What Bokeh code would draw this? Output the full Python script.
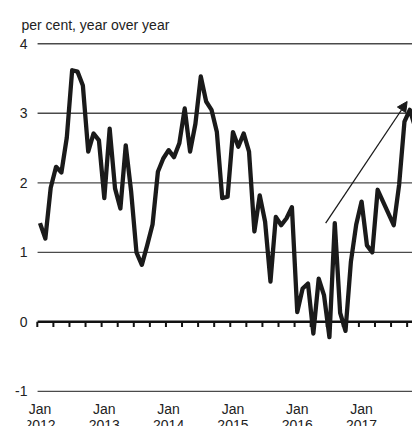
from bokeh.plotting import figure
from bokeh.models import FixedTicker, Arrow, NormalHead, ColumnDataSource, Range1d, LabelSet
from bokeh.core.properties import value
from bokeh.embed import file_html
from bokeh.resources import INLINE

# Monthly values, Jan 2012 .. Nov 2017 (per cent, year over year)
values_2012 = [1.42, 1.20, 1.93, 2.23, 2.15, 2.65, 3.62, 3.60, 3.40, 2.45, 2.71, 2.61]
values_2013 = [1.78, 2.78, 1.92, 1.63, 2.54, 1.88, 1.00, 0.82, 1.10, 1.40, 2.16, 2.35]
values_2014 = [2.47, 2.37, 2.57, 3.07, 2.45, 2.85, 3.53, 3.17, 3.05, 2.73, 1.78, 1.80]
values_2015 = [2.73, 2.52, 2.71, 2.45, 1.30, 1.82, 1.44, 0.58, 1.51, 1.39, 1.49, 1.65]
values_2016 = [0.14, 0.48, 0.55, -0.17, 0.62, 0.38, -0.22, 1.42, 0.13, -0.13, 0.86, 1.40]
values_2017 = [1.73, 1.10, 1.00, 1.90, 1.73, 1.56, 1.39, 1.97, 2.88, 3.05, 2.80]

years = [2012, 2013, 2014, 2015, 2016, 2017]
y_ticks = [-1, 0, 1, 2, 3, 4]
title_text = "per cent, year over year"

# Trend arrow (month index, value)
arrow_start = (53.3, 1.42)
arrow_end = (68.5, 3.17)

series = values_2012 + values_2013 + values_2014 + values_2015 + values_2016 + values_2017
months = list(range(len(series)))
src = ColumnDataSource(data=dict(m=months, v=series))

FONT = "Liberation Sans"
TXT = "#222222"
X_MIN, X_MAX = -2.33, 69.5      # visible month range
GRID_START = -0.45              # gridlines start half a month before Jan 2012

p = figure(width=412, height=426, output_backend="svg", toolbar_location=None,
           x_range=Range1d(X_MIN, X_MAX), y_range=Range1d(-1.506, 4.019),
           x_axis_location=None,
           min_border_left=27, min_border_right=0, min_border_top=42, min_border_bottom=0)
p.outline_line_color = None
p.background_fill_color = "white"
p.border_fill_color = "white"

p.title.text = title_text
p.title.text_font = FONT
p.title.text_font_size = "14px"
p.title.text_font_style = "normal"
p.title.text_color = TXT
p.title.align = "left"
p.title.offset = -6
p.title.standoff = 20

p.xgrid.visible = False
p.ygrid.visible = False

yax = p.yaxis[0]
yax.ticker = FixedTicker(ticks=y_ticks)
yax.major_label_overrides = {t: str(t) for t in y_ticks}
yax.axis_line_color = None
yax.major_tick_line_color = None
yax.minor_tick_line_color = None
yax.major_tick_in = 0
yax.major_tick_out = 0
yax.major_label_standoff = 0
yax.major_label_text_font = FONT
yax.major_label_text_font_size = "14px"
yax.major_label_text_color = TXT

# horizontal gridlines (start at the first month)
grid_y = [t for t in y_ticks if t != 0]
p.segment(x0=[GRID_START] * len(grid_y), y0=grid_y, x1=[X_MAX] * len(grid_y), y1=grid_y,
          line_color="#4a4a4a", line_width=1.4)
# zero line with quarterly tick marks
p.segment(x0=[GRID_START], y0=[0], x1=[X_MAX], y1=[0], line_color="#111111", line_width=2.5)
q_ticks = [m - 0.5 for m in range(0, len(series) + 3, 3)]
p.segment(x0=q_ticks, y0=[0] * len(q_ticks), x1=q_ticks, y1=[-0.075] * len(q_ticks),
          line_color="#111111", line_width=2)

# series line
p.line("m", "v", source=src, line_color="#1a1a1a", line_width=4.3, line_join="round")

# trend arrow
p.add_layout(Arrow(end=NormalHead(size=10, fill_color="#1a1a1a", line_color="#1a1a1a", line_width=1),
                   x_start=arrow_start[0], y_start=arrow_start[1],
                   x_end=arrow_end[0], y_end=arrow_end[1],
                   line_color="#1a1a1a", line_width=1.3))

# x tick labels (two lines: "Jan" / year), drawn below the -1 gridline
lab_src = ColumnDataSource(data=dict(
    x=[12 * i for i in range(len(years))],
    y_mon=[-1.26] * len(years),
    y_year=[-1.48] * len(years),
    mon=["Jan"] * len(years),
    yr=[str(y) for y in years],
))
for ycol, tcol in (("y_mon", "mon"), ("y_year", "yr")):
    p.add_layout(LabelSet(x="x", y=ycol, text=tcol, source=lab_src,
                          text_font=value(FONT), text_font_size=value("14px"),
                          text_color=value(TXT),
                          text_align="center", text_baseline="middle"))

open("out.html", "w").write(file_html(p, INLINE))
